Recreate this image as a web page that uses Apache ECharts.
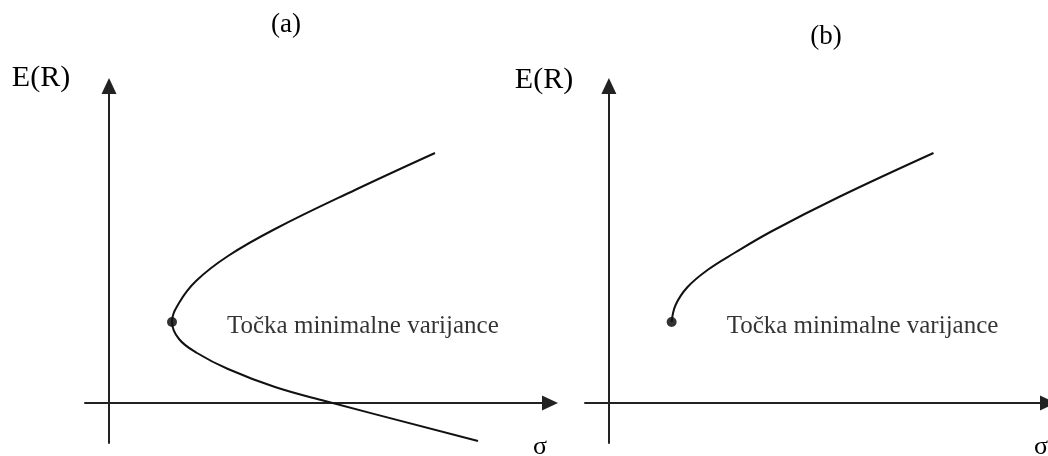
<!DOCTYPE html>
<html>
<head>
<meta charset="utf-8">
<script src="https://cdn.jsdelivr.net/npm/echarts@6/dist/echarts.min.js"></script>
<style>html,body{margin:0;padding:0;background:#fff}#c{width:1048px;height:456px}</style>
</head>
<body>
<div id="c"></div>
<script>
// Efficient frontier (a): [sigma, E(R)]
var curveA = [
  [32.6, 25.0], [24.6, 21.3], [16.6, 17.4], [11.9, 14.7], [8.7, 12.2],
  [7.0, 10.0], [6.3, 8.1], [7.0, 6.4], [8.8, 5.0], [11.9, 3.4],
  [16.6, 1.6], [21.6, 0.2], [36.9, -3.8]
];
// Efficient frontier (b)
var curveB = [
  [6.3, 8.1], [6.7, 9.8], [7.9, 11.6], [9.9, 13.3], [12.6, 15.0],
  [16.4, 17.2], [23.1, 20.6], [32.6, 25.0]
];
var minVarA = [[6.3, 8.1]];
var minVarB = [[6.3, 8.1]];
var panelTitles = ['(a)', '(b)'];
var yName = 'E(R)';
var xName = 'σ';
var pointLabel = 'Točka minimalne varijance';

var SERIF = '"Liberation Serif", "Times New Roman", serif';
var chart = echarts.init(document.getElementById('c'));

function axisX(gi) {
  return {
    type: 'value', gridIndex: gi, min: -2.4, max: 44.1,
    axisLine: { show: true, onZero: true, symbol: ['none', 'triangle'], symbolSize: [15, 16],
      lineStyle: { color: '#222', width: 2 } },
    axisTick: { show: false }, axisLabel: { show: false }, splitLine: { show: false }
  };
}
function axisY(gi) {
  return {
    type: 'value', gridIndex: gi, min: -4.0, max: 31.7,
    axisLine: { show: true, onZero: true, symbol: ['none', 'triangle'], symbolSize: [15, 16],
      lineStyle: { color: '#222', width: 2 } },
    axisTick: { show: false }, axisLabel: { show: false }, splitLine: { show: false }
  };
}
function dotSeries(gi, data) {
  return {
    type: 'scatter', xAxisIndex: gi, yAxisIndex: gi, data: data,
    symbolSize: 10, itemStyle: { color: '#000' }, silent: true,
    label: { show: true, position: 'right', distance: 50, offset: [0, 4],
      formatter: pointLabel, fontFamily: SERIF, fontSize: 25, color: '#000' }
  };
}
function curveSeries(gi, data) {
  return {
    type: 'line', xAxisIndex: gi, yAxisIndex: gi, data: data, smooth: 0.4,
    showSymbol: false, silent: true, clip: false,
    lineStyle: { color: '#111', width: 2 }
  };
}
function txt(x, y, s, size) {
  return { type: 'text', x: x, y: y, style: { text: s, fontFamily: SERIF, fontSize: size,
    fill: '#000', align: 'center', verticalAlign: 'middle' } };
}

chart.setOption({
  animation: false,
  backgroundColor: '#fff',
  grid: [
    { left: 85, top: 86, width: 465, height: 357 },
    { left: 585, top: 86, width: 465, height: 357 }
  ],
  xAxis: [axisX(0), axisX(1)],
  yAxis: [axisY(0), axisY(1)],
  series: [
    curveSeries(0, curveA), dotSeries(0, minVarA),
    curveSeries(1, curveB), dotSeries(1, minVarB)
  ],
  graphic: [
    txt(286, 25, panelTitles[0], 27),
    txt(826, 37, panelTitles[1], 27),
    txt(41, 78, yName, 30),
    txt(544, 80, yName, 30),
    txt(540, 447, xName, 26),
    txt(1041, 447, xName, 26)
  ]
});
</script>
</body>
</html>
